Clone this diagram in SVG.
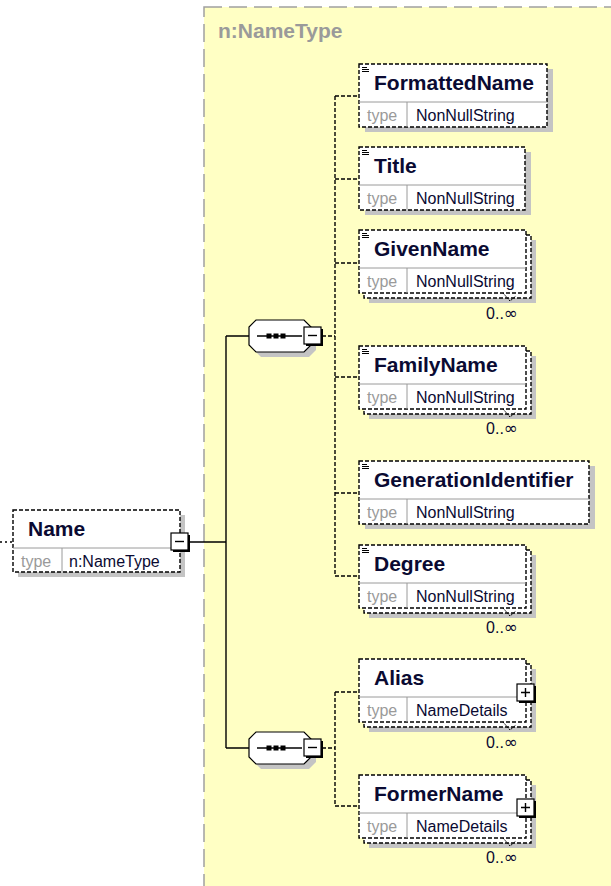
<svg xmlns="http://www.w3.org/2000/svg" width="611" height="886" viewBox="0 0 611 886">
<style>
.bg{fill:#fff}
.ct{fill:#ffffc4;stroke:#a0a0a0;stroke-width:1.5;stroke-dasharray:18 7}
.hdr{font-family:"Liberation Sans",Arial,sans-serif;font-weight:bold;font-size:21px;fill:#9a9a9a}
.sh{fill:#c4c4c4}
.box{fill:#fff;stroke:#000;stroke-width:1.4;stroke-dasharray:4 2}
.div{stroke:#9a9a9a;stroke-width:1;fill:none}
.nm{font-family:"Liberation Sans",Arial,sans-serif;font-weight:bold;font-size:21px;fill:#0a0a32}
.ty{font-family:"Liberation Sans",Arial,sans-serif;font-size:16px;fill:#9a9a9a}
.tv{font-family:"Liberation Sans",Arial,sans-serif;font-size:16px;fill:#0a0a32}
.oc{font-family:"Liberation Sans",Arial,sans-serif;font-size:16px;fill:#0a0a32}
.inf{font-family:"DejaVu Sans",sans-serif;font-size:17px}
.doc{stroke:#000;stroke-width:1;fill:none}
.sol{stroke:#000;stroke-width:1.4;fill:none}
.dsh{stroke:#000;stroke-width:1.4;fill:none;stroke-dasharray:4 2}
.chev{stroke:#000;stroke-width:1;fill:none;stroke-dasharray:2 1}
.btn{fill:#fff;stroke:#000;stroke-width:1.2}
.btns{fill:#000}
.oct{fill:#fff;stroke:#000;stroke-width:1.2}
</style>
<defs>
<g id="docicon"><path class="doc" d="M3 3.5H8M3 5.5H10M3 7.5H10"/></g>
<g id="minus"><rect class="btns" x="2" y="2" width="17" height="17"/><rect class="btn" x="0" y="0" width="17" height="17"/><path class="sol" d="M4 8.5H13"/></g>
<g id="plus"><rect class="btns" x="2" y="2" width="17" height="17"/><rect class="btn" x="0" y="0" width="17" height="17"/><path class="sol" d="M4 8.5H13M8.5 4V13"/></g>
<g id="seq">
<polygon class="sh" points="261,325 309,325 316,332 316,350 309,357 261,357 254,350 254,332"/>
<polygon class="oct" points="256,320 304,320 311,327 311,345 304,352 256,352 249,345 249,327"/>
<path class="sol" d="M257 336H302"/>
<rect x="266.5" y="333.5" width="5" height="5"/><rect x="273.5" y="333.5" width="5" height="5"/><rect x="280.5" y="333.5" width="5" height="5"/>
<use href="#minus" x="304" y="327"/>
</g>
</defs>
<rect class="bg" x="0" y="0" width="611" height="886"/>
<g id="n_NameType">
<rect class="ct" x="204" y="7" width="430" height="900"/>
<text class="hdr" x="218" y="38">n:NameType</text>
</g>
<g id="connectors">
<path class="dsh" d="M0 542H13" style="stroke-dasharray:2 3"/>
<path class="sol" d="M189 542H226M226 336V748M226 336H249M226 748H249"/>
<path class="dsh" d="M322 336H335M335 96V576M335 96H359M335 179H359M335 263H359M335 377H359M335 493H359M335 576H359"/>
<path class="dsh" d="M322 748H335M335 692V806M335 692H359M335 806H359"/>
</g>
<g id="seq1"><use href="#seq"/></g>
<g id="seq2"><use href="#seq" y="412"/></g>
<g id="Name">
<rect class="sh" x="18" y="515" width="167" height="62"/>
<rect class="box" x="13" y="510" width="167" height="62"/>
<path class="div" d="M13 548H180M62 548V572"/>
<text class="nm" x="28" y="536">Name</text>
<text class="ty" x="21" y="567">type</text>
<text class="tv" x="69" y="567">n:NameType</text>
<use href="#minus" x="171" y="533"/>
</g>
<g id="FormattedName">
<rect class="sh" x="365" y="69" width="188" height="63"/>
<rect class="box" x="359" y="64" width="188" height="63"/>
<path class="div" d="M359 102H547M407 102V127"/>
<use href="#docicon" x="359" y="64"/>
<text class="nm" x="374" y="90">FormattedName</text>
<text class="ty" x="367" y="121">type</text>
<text class="tv" x="416" y="121">NonNullString</text>
</g>
<g id="Title">
<rect class="sh" x="365" y="152" width="166" height="63"/>
<rect class="box" x="359" y="147" width="166" height="63"/>
<path class="div" d="M359 185H525M407 185V210"/>
<use href="#docicon" x="359" y="147"/>
<text class="nm" x="374" y="173">Title</text>
<text class="ty" x="367" y="204">type</text>
<text class="tv" x="416" y="204">NonNullString</text>
</g>
<g id="GivenName">
<rect class="sh" x="369" y="240" width="167" height="63"/>
<rect class="box" x="364" y="235" width="167" height="63"/>
<rect class="box" x="359" y="230" width="167" height="63"/>
<path class="div" d="M359 268H526M407 268V293"/>
<use href="#docicon" x="359" y="230"/>
<text class="nm" x="374" y="256">GivenName</text>
<text class="ty" x="367" y="287">type</text>
<text class="tv" x="416" y="287">NonNullString</text>
<path class="chev" d="M503 293L510 301L516 296"/>
<text class="oc" x="518" y="319" text-anchor="end">0..<tspan class="inf">∞</tspan></text>
</g>
<g id="FamilyName">
<rect class="sh" x="369" y="356" width="167" height="63"/>
<rect class="box" x="364" y="351" width="167" height="63"/>
<rect class="box" x="359" y="346" width="167" height="63"/>
<path class="div" d="M359 384H526M407 384V409"/>
<use href="#docicon" x="359" y="346"/>
<text class="nm" x="374" y="372">FamilyName</text>
<text class="ty" x="367" y="403">type</text>
<text class="tv" x="416" y="403">NonNullString</text>
<path class="chev" d="M503 409L510 417L516 412"/>
<text class="oc" x="518" y="434" text-anchor="end">0..<tspan class="inf">∞</tspan></text>
</g>
<g id="GenerationIdentifier">
<rect class="sh" x="365" y="466" width="230" height="63"/>
<rect class="box" x="359" y="461" width="230" height="63"/>
<path class="div" d="M359 499H589M407 499V524"/>
<use href="#docicon" x="359" y="461"/>
<text class="nm" x="374" y="487">GenerationIdentifier</text>
<text class="ty" x="367" y="518">type</text>
<text class="tv" x="416" y="518">NonNullString</text>
</g>
<g id="Degree">
<rect class="sh" x="369" y="555" width="167" height="63"/>
<rect class="box" x="364" y="550" width="167" height="63"/>
<rect class="box" x="359" y="545" width="167" height="63"/>
<path class="div" d="M359 583H526M407 583V608"/>
<use href="#docicon" x="359" y="545"/>
<text class="nm" x="374" y="571">Degree</text>
<text class="ty" x="367" y="602">type</text>
<text class="tv" x="416" y="602">NonNullString</text>
<path class="chev" d="M503 608L510 616L516 611"/>
<text class="oc" x="518" y="633" text-anchor="end">0..<tspan class="inf">∞</tspan></text>
</g>
<g id="Alias">
<rect class="sh" x="369" y="669" width="167" height="63"/>
<rect class="box" x="364" y="664" width="167" height="63"/>
<rect class="box" x="359" y="659" width="167" height="63"/>
<path class="div" d="M359 697H526M407 697V722"/>
<text class="nm" x="374" y="685">Alias</text>
<text class="ty" x="367" y="716">type</text>
<text class="tv" x="416" y="716">NameDetails</text>
<use href="#plus" x="517" y="684"/>
<path class="chev" d="M503 722L510 730L516 725"/>
<text class="oc" x="518" y="748" text-anchor="end">0..<tspan class="inf">∞</tspan></text>
</g>
<g id="FormerName">
<rect class="sh" x="369" y="785" width="167" height="63"/>
<rect class="box" x="364" y="780" width="167" height="63"/>
<rect class="box" x="359" y="775" width="167" height="63"/>
<path class="div" d="M359 813H526M407 813V838"/>
<text class="nm" x="374" y="801">FormerName</text>
<text class="ty" x="367" y="832">type</text>
<text class="tv" x="416" y="832">NameDetails</text>
<use href="#plus" x="517" y="799"/>
<path class="chev" d="M503 838L510 846L516 841"/>
<text class="oc" x="518" y="863" text-anchor="end">0..<tspan class="inf">∞</tspan></text>
</g>
</svg>
